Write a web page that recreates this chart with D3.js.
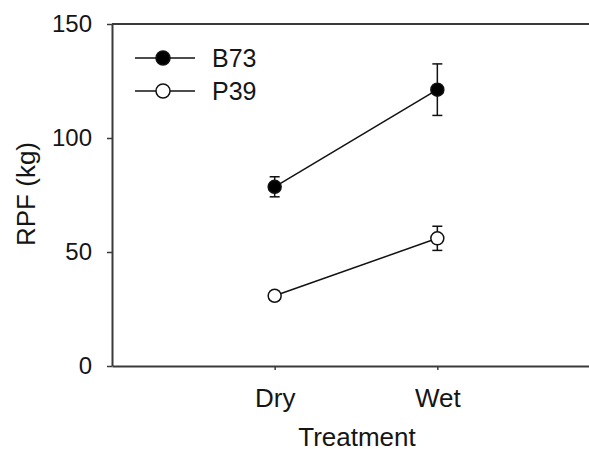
<!DOCTYPE html>
<html>
<head>
<meta charset="utf-8">
<script src="https://cdn.jsdelivr.net/npm/d3@7"></script>
<style>
  body { margin: 0; background: #fff; }
  text { font-family: Arial, "Liberation Sans", sans-serif; fill: #151515; }
</style>
</head>
<body>
<svg width="589" height="449"></svg>
<script>
// values
var categories = ["Dry", "Wet"];
var seriesNames = ["B73", "P39"];
var b73 = [78.6, 121.2];
var b73Err = [4.4, 11.3];
var p39 = [30.8, 56.0];
var p39Err = [2.0, 5.3];
var yTicks = [0, 50, 100, 150];

var svg = d3.select("svg");
var plotL = 112, plotT = 24, plotB = 366, plotR = 600;
var axisColor = "#3a3a3a";

var x = d3.scaleLinear().domain([0, 3]).range([plotL, plotR]);
var y = d3.scaleLinear().domain([0, 150]).range([plotB, plotT]);

// frame top line (right side is cut off)
svg.append("line")
  .attr("x1", plotL).attr("x2", plotR)
  .attr("y1", plotT).attr("y2", plotT)
  .style("stroke", axisColor).style("stroke-width", 2);

var yAxis = svg.append("g")
  .attr("transform", "translate(" + plotL + ",0)")
  .call(d3.axisLeft(y).tickValues(yTicks).tickSize(5).tickSizeOuter(0).tickPadding(15));
var xAxis = svg.append("g")
  .attr("transform", "translate(0," + plotB + ")")
  .call(d3.axisBottom(x).tickValues([1, 2]).tickFormat(function(d) { return categories[d - 1]; })
    .tickSize(4).tickSizeOuter(0).tickPadding(19));

[yAxis, xAxis].forEach(function(g) {
  g.attr("font-size", null).attr("font-family", null);
  g.select(".domain").style("stroke", axisColor).style("stroke-width", 2);
  g.selectAll(".tick line").style("stroke", axisColor).style("stroke-width", 1.5);
  g.selectAll("text").style("fill", "#151515");
});
yAxis.selectAll("text").style("font-size", "24px");
xAxis.selectAll("text").style("font-size", "26px");

svg.append("text")
  .attr("x", 357).attr("y", 446)
  .attr("text-anchor", "middle")
  .style("font-size", "26px")
  .text("Treatment");

svg.append("text")
  .attr("transform", "translate(35,194) rotate(-90)")
  .attr("text-anchor", "middle")
  .style("font-size", "26px")
  .text("RPF (kg)");

var series = [
  { name: seriesNames[0], values: b73, err: b73Err, fill: "#000" },
  { name: seriesNames[1], values: p39, err: p39Err, fill: "#fff" }
];

var line = d3.line()
  .x(function(d, i) { return x(i + 1); })
  .y(function(d) { return y(d); });

series.forEach(function(s) {
  var g = svg.append("g");
  g.append("path")
    .attr("d", line(s.values))
    .style("fill", "none").style("stroke", "#111").style("stroke-width", 1.5);
  s.values.forEach(function(v, i) {
    var cx = x(i + 1);
    g.append("line")
      .attr("x1", cx).attr("x2", cx)
      .attr("y1", y(v + s.err[i])).attr("y2", y(v - s.err[i]))
      .style("stroke", "#111").style("stroke-width", 1.5);
    [v + s.err[i], v - s.err[i]].forEach(function(e) {
      g.append("line")
        .attr("x1", cx - 5).attr("x2", cx + 5)
        .attr("y1", y(e)).attr("y2", y(e))
        .style("stroke", "#111").style("stroke-width", 1.5);
    });
    g.append("circle")
      .attr("cx", cx).attr("cy", y(v)).attr("r", 6.5)
      .style("fill", s.fill).style("stroke", "#111").style("stroke-width", 1.5);
  });
});

// legend
var legendY = [58, 91];
series.forEach(function(s, i) {
  svg.append("line")
    .attr("x1", 135).attr("x2", 195)
    .attr("y1", legendY[i]).attr("y2", legendY[i])
    .style("stroke", "#111").style("stroke-width", 1.5);
  svg.append("circle")
    .attr("cx", 163).attr("cy", legendY[i]).attr("r", 7)
    .style("fill", s.fill).style("stroke", "#111").style("stroke-width", 1.5);
  svg.append("text")
    .attr("x", 212).attr("y", legendY[i] + 8.5)
    .style("font-size", "25px")
    .text(s.name);
});
</script>
</body>
</html>
